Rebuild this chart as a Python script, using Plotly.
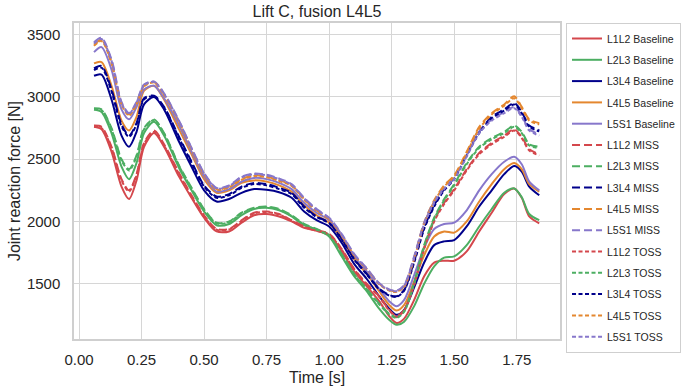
import plotly.graph_objects as go

# ---------------- data ----------------
time_s = [0.06, 0.09, 0.13, 0.17, 0.20, 0.23, 0.26, 0.30, 0.34, 0.40, 0.45, 0.50, 0.55, 0.60,
          0.65, 0.70, 0.75, 0.80, 0.85, 0.90, 0.95, 1.00, 1.05, 1.10, 1.15, 1.20, 1.24, 1.27,
          1.30, 1.34, 1.38, 1.42, 1.46, 1.50, 1.55, 1.60, 1.65, 1.70, 1.74, 1.77, 1.80, 1.84]

l1l2_baseline = [2760, 2740, 2560, 2280, 2180, 2330, 2600, 2710, 2600, 2360, 2190, 2030, 1920, 1920,
                 1990, 2050, 2060, 2040, 2000, 1950, 1925, 1890, 1760, 1600, 1480, 1360, 1240, 1185,
                 1220, 1370, 1560, 1670, 1685, 1685, 1760, 1920, 2070, 2220, 2265, 2190, 2040, 1985]
l2l3_baseline = [2900, 2880, 2710, 2440, 2340, 2470, 2710, 2800, 2690, 2430, 2250, 2080, 1970, 1980,
                 2050, 2100, 2110, 2090, 2040, 1970, 1935, 1880, 1720, 1560, 1440, 1300, 1210, 1170,
                 1195, 1320, 1500, 1640, 1710, 1720, 1810, 1960, 2100, 2230, 2265, 2195, 2060, 2010]
l3l4_baseline = [3170, 3180, 2980, 2690, 2600, 2720, 2940, 3000, 2900, 2640, 2440, 2250, 2160, 2180,
                 2230, 2260, 2255, 2235, 2190, 2080, 2010, 1960, 1830, 1660, 1540, 1400, 1300, 1250,
                 1290, 1470, 1670, 1810, 1840, 1850, 1960, 2120, 2250, 2380, 2445, 2400, 2280, 2210]
l4l5_baseline = [3270, 3280, 3090, 2810, 2730, 2840, 3050, 3090, 2980, 2740, 2540, 2340, 2230, 2250,
                 2310, 2330, 2320, 2290, 2240, 2130, 2050, 1990, 1860, 1700, 1580, 1440, 1330, 1285,
                 1330, 1520, 1730, 1880, 1920, 1910, 2000, 2160, 2300, 2420, 2470, 2420, 2300, 2240]
l5s1_baseline = [3360, 3400, 3220, 2900, 2820, 2920, 3060, 3090, 2990, 2770, 2560, 2360, 2240, 2260,
                 2320, 2350, 2340, 2310, 2260, 2150, 2070, 2010, 1880, 1720, 1600, 1460, 1360, 1320,
                 1370, 1570, 1790, 1940, 1980, 1990, 2090, 2250, 2380, 2480, 2520, 2460, 2320, 2250]

l1l2_miss = [2770, 2760, 2600, 2340, 2250, 2380, 2630, 2730, 2620, 2390, 2210, 2050, 1940, 1940,
             2010, 2070, 2080, 2060, 2010, 1960, 1930, 1900, 1780, 1620, 1500, 1400, 1290, 1240,
             1290, 1500, 1790, 2010, 2150, 2260, 2420, 2550, 2630, 2690, 2740, 2680, 2580, 2540]
l2l3_miss = [2910, 2900, 2750, 2500, 2420, 2530, 2750, 2820, 2710, 2450, 2270, 2100, 1990, 2000,
             2070, 2110, 2120, 2100, 2050, 1980, 1940, 1890, 1740, 1580, 1460, 1340, 1260, 1230,
             1280, 1510, 1810, 2030, 2180, 2300, 2470, 2600, 2670, 2720, 2770, 2720, 2620, 2600]
l3l4_miss = [3230, 3250, 3060, 2780, 2690, 2790, 2990, 3010, 2920, 2680, 2480, 2290, 2200, 2220,
             2280, 2310, 2300, 2270, 2230, 2120, 2040, 1990, 1860, 1700, 1580, 1460, 1410, 1400,
             1450, 1680, 1950, 2130, 2260, 2350, 2540, 2720, 2840, 2900, 2950, 2880, 2770, 2735]
l4l5_miss = [3420, 3460, 3280, 2950, 2860, 2950, 3090, 3120, 3020, 2800, 2580, 2380, 2260, 2280,
             2340, 2370, 2360, 2330, 2290, 2180, 2090, 2020, 1890, 1730, 1620, 1500, 1450, 1440,
             1480, 1710, 1990, 2170, 2290, 2370, 2560, 2760, 2870, 2940, 3005, 2920, 2820, 2790]
l5s1_miss = [3440, 3475, 3300, 2960, 2870, 2960, 3100, 3125, 3030, 2810, 2590, 2390, 2270, 2290,
             2360, 2385, 2375, 2345, 2300, 2190, 2100, 2030, 1900, 1740, 1625, 1505, 1455, 1445,
             1490, 1720, 1990, 2160, 2270, 2350, 2530, 2720, 2820, 2880, 2920, 2850, 2740, 2700]

l1l2_toss = [2760, 2750, 2590, 2330, 2240, 2370, 2620, 2720, 2610, 2380, 2200, 2040, 1935, 1935,
             2005, 2065, 2075, 2055, 2005, 1955, 1925, 1895, 1775, 1615, 1495, 1395, 1285, 1235,
             1285, 1490, 1780, 2000, 2140, 2250, 2410, 2540, 2620, 2680, 2730, 2670, 2570, 2530]
l2l3_toss = [2900, 2895, 2740, 2490, 2410, 2520, 2740, 2815, 2705, 2445, 2265, 2095, 1985, 1995,
             2065, 2105, 2115, 2095, 2045, 1975, 1935, 1885, 1735, 1575, 1455, 1335, 1255, 1225,
             1275, 1500, 1800, 2020, 2170, 2290, 2460, 2590, 2660, 2710, 2760, 2710, 2610, 2590]
l3l4_toss = [3215, 3235, 3045, 2765, 2680, 2780, 2980, 3005, 2915, 2670, 2470, 2280, 2190, 2210,
             2270, 2300, 2290, 2260, 2220, 2110, 2035, 1985, 1855, 1695, 1575, 1455, 1405, 1395,
             1445, 1670, 1940, 2120, 2250, 2340, 2530, 2710, 2830, 2890, 2940, 2870, 2760, 2725]
l4l5_toss = [3410, 3450, 3270, 2940, 2850, 2940, 3085, 3115, 3015, 2795, 2575, 2375, 2255, 2275,
             2335, 2365, 2355, 2325, 2285, 2175, 2085, 2015, 1885, 1725, 1615, 1495, 1445, 1435,
             1475, 1700, 1980, 2160, 2280, 2360, 2550, 2745, 2860, 2930, 2990, 2910, 2810, 2780]
l5s1_toss = [3430, 3465, 3290, 2950, 2865, 2955, 3095, 3120, 3025, 2805, 2585, 2385, 2265, 2285,
             2355, 2380, 2370, 2340, 2295, 2185, 2095, 2025, 1895, 1735, 1620, 1500, 1450, 1440,
             1485, 1710, 1980, 2150, 2260, 2340, 2520, 2710, 2810, 2870, 2910, 2840, 2730, 2690]

levels = ["L1L2", "L2L3", "L3L4", "L4L5", "L5S1"]
conditions = ["Baseline", "MISS", "TOSS"]
x_ticks = [0.0, 0.25, 0.5, 0.75, 1.0, 1.25, 1.5, 1.75]
y_ticks = [1500, 2000, 2500, 3000, 3500]

series = {
    "Baseline": [l1l2_baseline, l2l3_baseline, l3l4_baseline, l4l5_baseline, l5s1_baseline],
    "MISS": [l1l2_miss, l2l3_miss, l3l4_miss, l4l5_miss, l5s1_miss],
    "TOSS": [l1l2_toss, l2l3_toss, l3l4_toss, l4l5_toss, l5s1_toss],
}

# ---------------- style ----------------
colors = ["#d4474c", "#4cae62", "#00008b", "#e4872f", "#8777cb"]
dashes = {"Baseline": "solid", "MISS": "8px,4px", "TOSS": "4px,2.5px"}
FONT = "Liberation Sans, Arial, sans-serif"

fig = go.Figure()
k = 0
for cond in conditions:
    for lvl, col, vals in zip(levels, colors, series[cond]):
        fig.add_trace(go.Scatter(
            x=time_s, y=vals, mode="lines", name=f"{lvl} {cond}",
            line=dict(color=col, width=2, dash=dashes[cond], shape="spline", smoothing=0.8),
            legendgroup=f"g{k:02d}",
        ))
        k += 1

axis_common = dict(
    showline=True, mirror=True, linecolor="#cfcfcf", linewidth=1.5,
    showgrid=True, gridcolor="#d6d6d6", gridwidth=1, zeroline=False,
    ticks="", tickfont=dict(family=FONT, size=15, color="#262626"),
    automargin=False,
)

fig.update_layout(
    width=692, height=391,
    margin=dict(l=74, r=131, t=23, b=52),
    paper_bgcolor="white", plot_bgcolor="white",
    font=dict(family=FONT, color="#262626"),
    title=dict(text="Lift C, fusion L4L5", x=0.5, xref="paper", xanchor="center",
               y=1 - 11 / 391, yref="container", yanchor="middle",
               font=dict(family=FONT, size=16, color="#262626")),
    xaxis=dict(range=[-0.02, 1.923], tickvals=x_ticks, tickformat=".2f",
               ticklabelstandoff=6, **axis_common),
    yaxis=dict(range=[1056, 3594], tickvals=y_ticks,
               ticklabelstandoff=9, **axis_common),
    annotations=[
        dict(text="Time [s]", xref="paper", yref="paper", x=0.5, y=(339 - 377) / 316,
             xanchor="center", yanchor="middle", showarrow=False,
             font=dict(family=FONT, size=16, color="#262626")),
        dict(text="Joint reaction force [N]", xref="paper", yref="paper",
             x=(14 - 74) / 487, y=0.5, xanchor="center", yanchor="middle",
             textangle=-90, showarrow=False,
             font=dict(family=FONT, size=16, color="#262626")),
    ],
    legend=dict(x=1.0103, xanchor="left", y=1.0, yanchor="top",
                bordercolor="#cfcfcf", borderwidth=1, bgcolor="white",
                font=dict(family=FONT, size=10.5, color="#262626"),
                tracegroupgap=2.3, traceorder="grouped", maxheight=340),
    showlegend=True,
)

fig.write_html("out.html", config={"displayModeBar": False},
               post_script="document.body.style.margin='0';")
